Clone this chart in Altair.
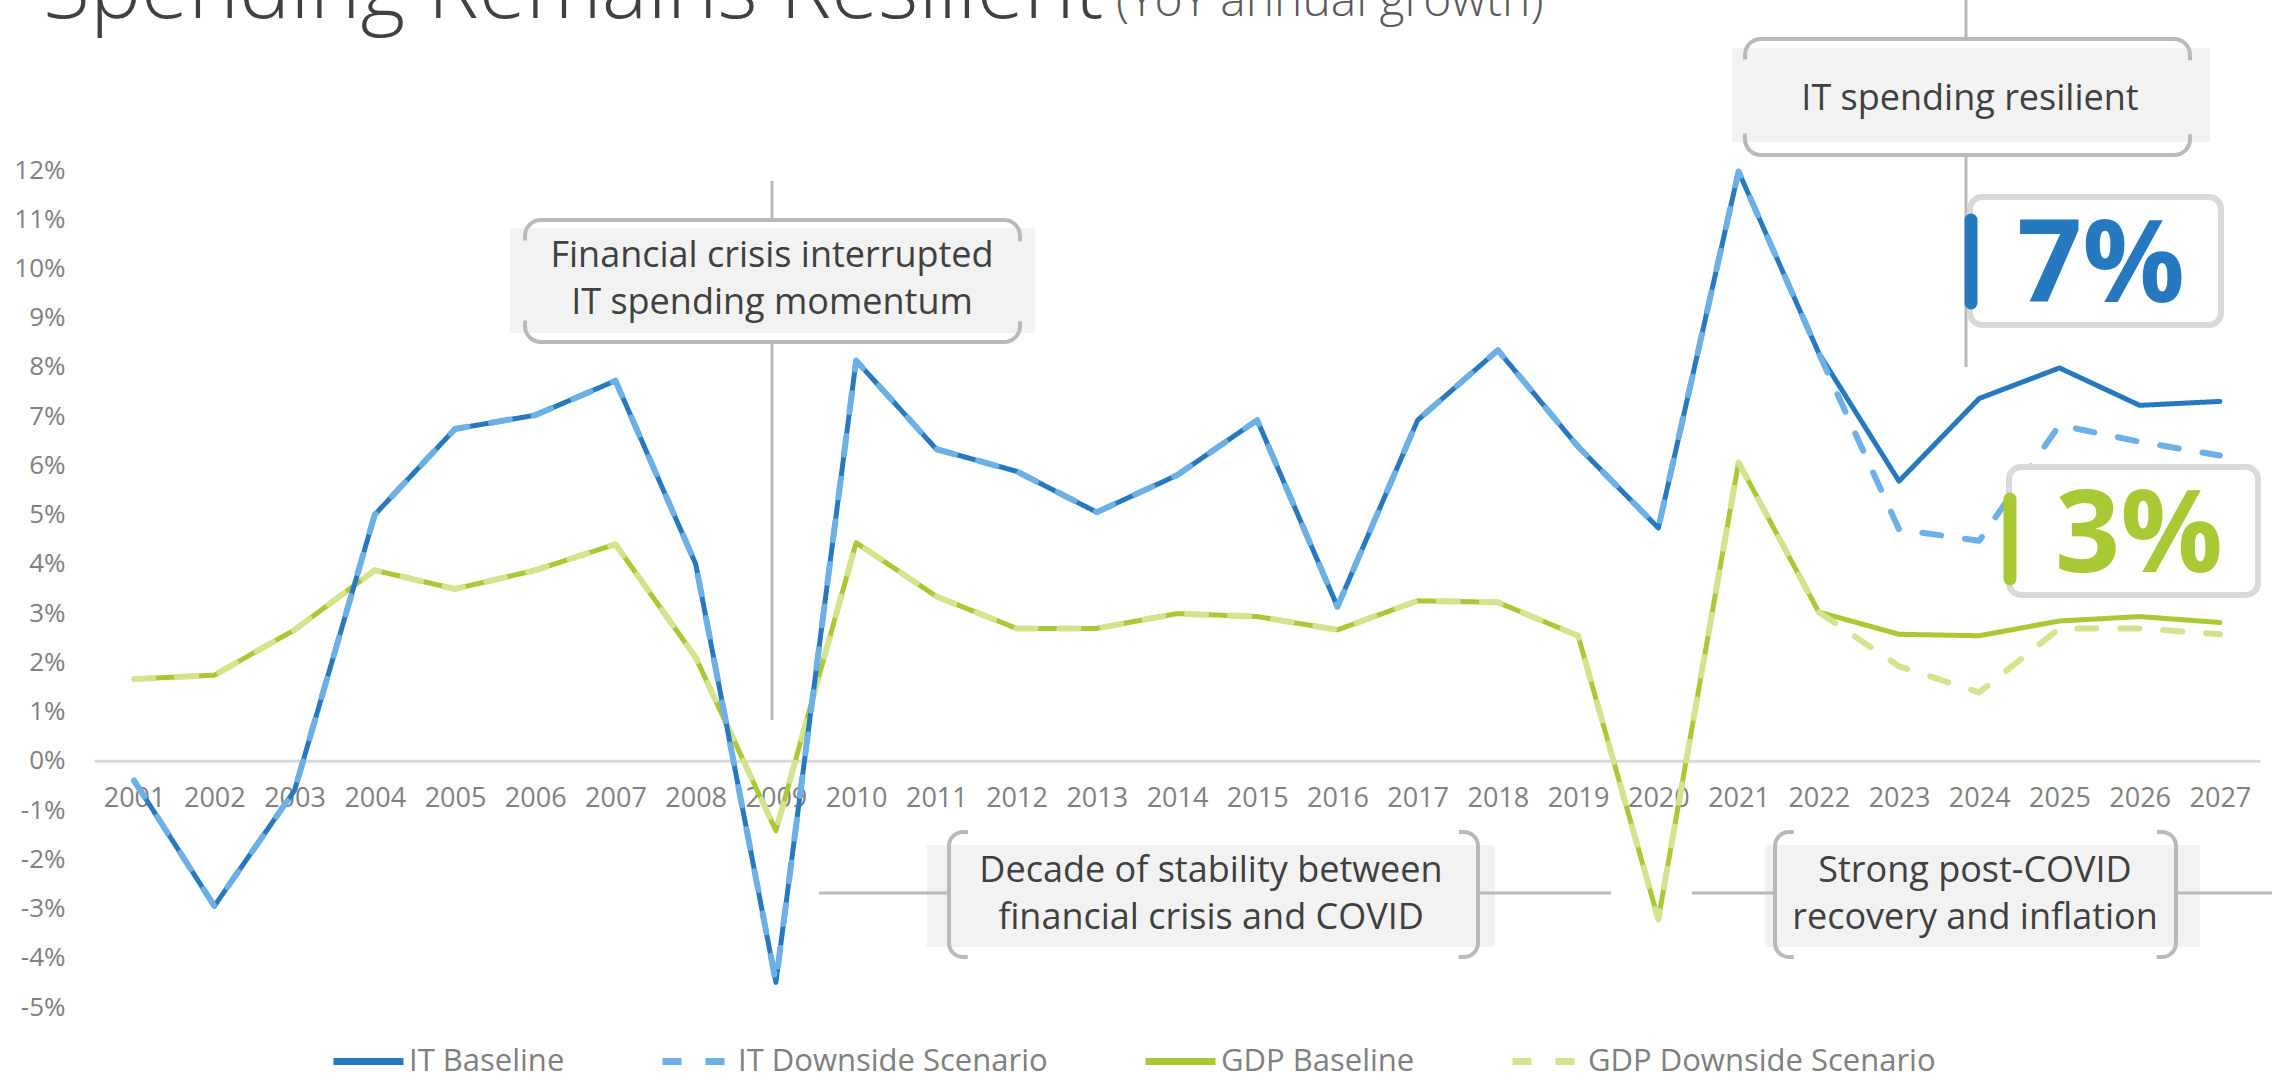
import math
import altair as alt
import pandas as pd

# ---------------- data ----------------
years = list(range(2001, 2028))
series_names = ["IT Baseline", "IT Downside Scenario", "GDP Baseline", "GDP Downside Scenario"]

it_baseline = [-0.40, -2.95, -0.60, 5.00, 6.74, 7.02, 7.72, 4.00, -4.50, 8.13,
               6.33, 5.88, 5.05, 5.80, 6.92, 3.13, 6.92, 8.34, 6.38, 4.73,
               11.97, 8.28, 5.68, 7.36, 7.98, 7.22, 7.30]
it_downside = [-0.40, -2.95, -0.60, 5.00, 6.74, 7.02, 7.72, 4.00, -4.50, 8.13,
               6.33, 5.88, 5.05, 5.80, 6.92, 3.13, 6.92, 8.34, 6.38, 4.73,
               11.97, 8.28, 4.70, 4.47, 6.82, 6.48, 6.20]
gdp_baseline = [1.66, 1.74, 2.66, 3.87, 3.49, 3.87, 4.40, 2.10, -1.42, 4.43,
                3.34, 2.69, 2.69, 2.99, 2.93, 2.66, 3.25, 3.22, 2.54, -3.22,
                6.06, 3.02, 2.57, 2.54, 2.84, 2.93, 2.81]
gdp_downside = [1.66, 1.74, 2.66, 3.87, 3.49, 3.87, 4.40, 2.10, -1.42, 4.43,
                3.34, 2.69, 2.69, 2.99, 2.93, 2.66, 3.25, 3.22, 2.54, -3.22,
                6.06, 3.02, 1.92, 1.39, 2.69, 2.69, 2.57]
y_ticks = list(range(-5, 13))

title_text = "Spending Remains Resilient"
subtitle_text = "(YoY annual growth)"
ann_crisis = ["Financial crisis interrupted", "IT spending momentum"]
ann_resilient = "IT spending resilient"
ann_decade = ["Decade of stability between", "financial crisis and COVID"]
ann_covid = ["Strong post-COVID", "recovery and inflation"]
big_it = "7%"
big_gdp = "3%"

# ---------------- styles ----------------
FONT = "Open Sans"
BLUE = "#2679BE"
LBLUE = "#6CB0E5"
GREEN = "#A9C934"
LGREEN = "#D3E48E"
colors = [BLUE, LBLUE, GREEN, LGREEN]
DASH = [19, 24]
dashes = [[1, 0], DASH, [1, 0], DASH]
widths = {"IT Baseline": 5, "IT Downside Scenario": 6, "GDP Baseline": 5, "GDP Downside Scenario": 6}
GRAY_LINE = "#b9b9b9"
BOX_FILL = "#f2f2f2"
TXT = "#404040"
AX = "#808080"

# plot area geometry (canvas pixels)
L, T = 94, 170
W, H = 2166, 837
CANVAS_W, CANVAS_H = 2272, 1075

df = pd.DataFrame({
    "year": years * 4,
    "value": it_baseline + it_downside + gdp_baseline + gdp_downside,
    "series": sum([[s] * len(years) for s in series_names], []),
})

legend = alt.Legend(
    title=None, orient="none", legendX=236, legendY=853, direction="horizontal",
    columns=4, gridAlign="none", columnPadding=83, labelFont=FONT, labelFontSize=31,
    labelColor=AX, labelOffset=2, labelLimit=0, symbolType="stroke", symbolSize=4900,
    symbolStrokeWidth=7,
)

x_enc = alt.X("year:Q", scale=alt.Scale(domain=[2000.5, 2027.5], nice=False, zero=False),
              axis=alt.Axis(values=years, format="d", title=None, grid=False, ticks=False,
                            domain=True, domainColor="#d9d9d9", domainWidth=3,
                            offset=-(H - 12 * H / 17), labelPadding=38, labelBaseline="middle",
                            labelFont=FONT, labelFontSize=27, labelColor=AX, labelFlush=False))
y_enc = alt.Y("value:Q", scale=alt.Scale(domain=[-5, 12], nice=False, zero=False),
              axis=alt.Axis(values=y_ticks, labelExpr="datum.value + '%'", title=None,
                            grid=False, ticks=False, domain=False, labelPadding=29,
                            labelFont=FONT, labelFontSize=26, labelColor=AX))

def line_layer(name):
    return alt.Chart(df).transform_filter(alt.datum.series == name).mark_line(
        strokeWidth=widths[name], strokeCap="round", strokeJoin="round"
    ).encode(
        x=x_enc, y=y_enc,
        color=alt.Color("series:N", scale=alt.Scale(domain=series_names, range=colors), legend=legend),
        strokeDash=alt.StrokeDash("series:N", scale=alt.Scale(domain=series_names, range=dashes), legend=legend),
    )

one = pd.DataFrame({"k": [0]})

def rx(x):
    return x - L

def ry(y):
    return y - T

def rect(x1, y1, x2, y2, **kw):
    return alt.Chart(one).mark_rect(**kw).encode(
        x=alt.value(rx(x1)), x2=alt.value(rx(x2)), y=alt.value(ry(y1)), y2=alt.value(ry(y2)))

def rule(x1, y1, x2, y2, **kw):
    return alt.Chart(one).mark_rule(**kw).encode(
        x=alt.value(rx(x1)), x2=alt.value(rx(x2)), y=alt.value(ry(y1)), y2=alt.value(ry(y2)))

def text(x, y, t, **kw):
    return alt.Chart(one).mark_text(text=t, **kw).encode(x=alt.value(rx(x)), y=alt.value(ry(y)))

def tb_dash(w, h, r, s):
    q = math.pi * r / 2
    return [w - 2 * r + q + s, h - 2 * r - 2 * s, 2 * s + 2 * q + w - 2 * r, h - 2 * r - 2 * s, s + q]

def side_dash(w, h, r, s):
    q = math.pi * r / 2
    return [s, w - 2 * r - 2 * s, 2 * s + 2 * q + h - 2 * r, w - 2 * r - 2 * s, s + q + h - 2 * r + q]

def bracket_tb(x1, y1, x2, y2, r=16, s=5):
    return rect(x1, y1, x2, y2, fillOpacity=0, stroke=GRAY_LINE, strokeWidth=4, cornerRadius=r,
                strokeDash=tb_dash(x2 - x1, y2 - y1, r, s))

def bracket_side(x1, y1, x2, y2, r=14, s=5):
    return rect(x1, y1, x2, y2, fillOpacity=0, stroke=GRAY_LINE, strokeWidth=4, cornerRadius=r,
                strokeDash=side_dash(x2 - x1, y2 - y1, r, s))

ann_txt = dict(font=FONT, fontSize=36, color=TXT, align="center", baseline="middle")
gl = dict(color=GRAY_LINE, strokeWidth=3)

layers = []
# title
layers.append(text(43, 18, title_text, font=FONT, fontSize=86, fontWeight=300, color=TXT,
                   align="left", baseline="alphabetic"))
layers.append(text(1116, 16, subtitle_text, font=FONT, fontSize=48, fontWeight=300, color="#595959",
                   align="left", baseline="alphabetic"))

# annotation: financial crisis
layers += [
    rect(510, 228, 1035, 333, color=BOX_FILL),
    bracket_tb(525, 220, 1020, 342),
    rule(772, 181, 772, 220, **gl),
    rule(772, 342, 772, 720, **gl),
    text(772, 256, ann_crisis[0], **ann_txt),
    text(772, 303, ann_crisis[1], **ann_txt),
]
# annotation: IT spending resilient
layers += [
    rect(1732, 48, 2210, 142, color=BOX_FILL),
    bracket_tb(1745, 39, 2190, 155),
    rule(1966, 0, 1966, 39, **gl),
    rule(1966, 155, 1966, 367, **gl),
    text(1970, 99, ann_resilient, **ann_txt),
]
# annotation: decade
layers += [
    rect(927, 845, 1495, 947, color=BOX_FILL),
    bracket_side(949, 832, 1478, 957),
    rule(819, 893, 949, 893, **gl),
    rule(1478, 893, 1611, 893, **gl),
    text(1211, 871, ann_decade[0], **ann_txt),
    text(1211, 918, ann_decade[1], **ann_txt),
]
# annotation: post-covid
layers += [
    rect(1765, 845, 2200, 947, color=BOX_FILL),
    bracket_side(1775, 832, 2176, 957),
    rule(1692, 893, 1775, 893, **gl),
    rule(2176, 893, 2272, 893, **gl),
    text(1975, 871, ann_covid[0], **ann_txt),
    text(1975, 918, ann_covid[1], **ann_txt),
]

# data lines
for name in ["GDP Baseline", "GDP Downside Scenario", "IT Baseline", "IT Downside Scenario"]:
    layers.append(line_layer(name))

# big value callouts
big = dict(font=FONT, fontSize=114, fontWeight="bold", align="left", baseline="alphabetic")
layers += [
    rect(1970, 197, 2221, 325, fill="white", stroke="#d9d9d9", strokeWidth=6, cornerRadius=12),
    rule(1971, 220, 1971, 303, color=BLUE, strokeWidth=13, strokeCap="round"),
    text(2017, 302, big_it, color=BLUE, **big),
    rect(2009, 467, 2258, 595, fill="white", stroke="#d9d9d9", strokeWidth=6, cornerRadius=12),
    rule(2010, 499, 2010, 579, color=GREEN, strokeWidth=13, strokeCap="round"),
    text(2055, 572, big_gdp, color=GREEN, **big),
]

chart = alt.layer(*layers).properties(
    width=W, height=H,
    padding={"left": L, "top": T, "right": CANVAS_W - L - W, "bottom": CANVAS_H - T - H},
    autosize=alt.AutoSizeParams(type="none"),
    background="white",
).configure_view(stroke=None)

chart.save("out.html", embed_options={"renderer": "svg", "actions": False})
